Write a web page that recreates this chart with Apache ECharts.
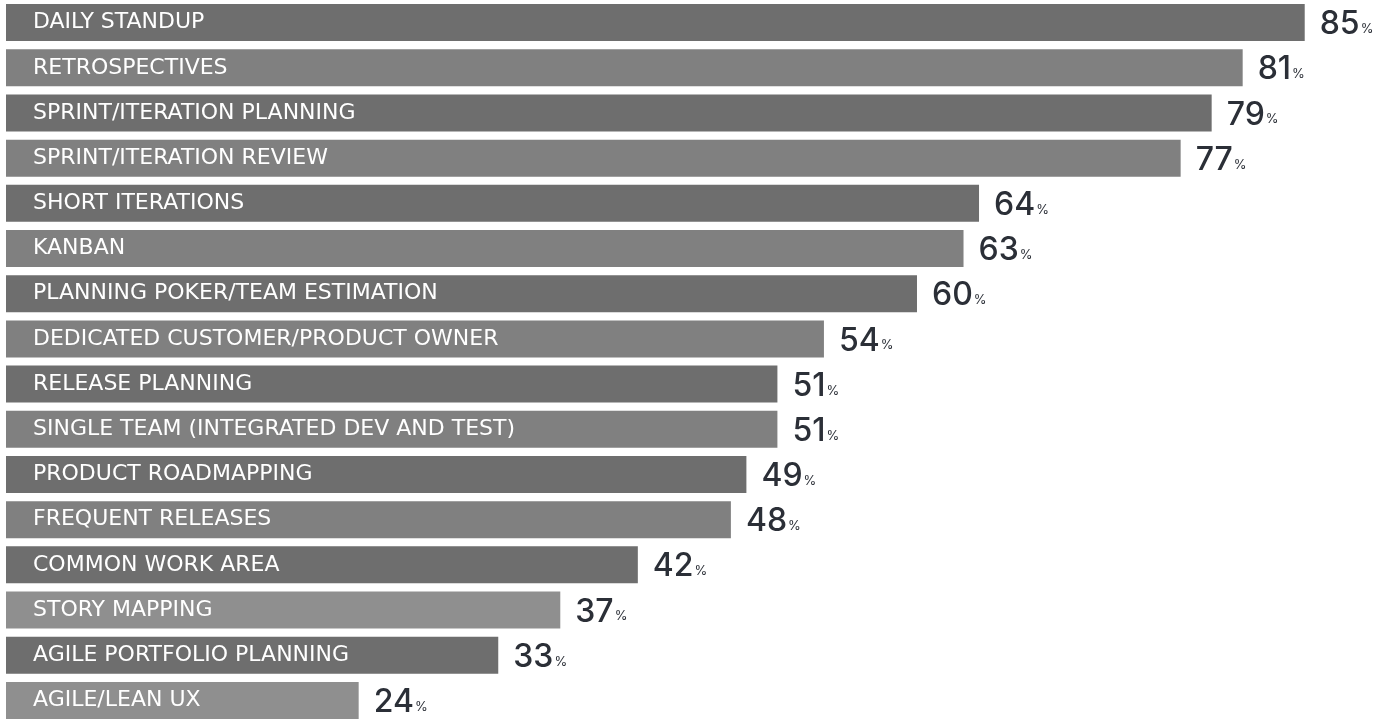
<!DOCTYPE html>
<html>
<head>
<meta charset="utf-8">
<script src="https://cdn.jsdelivr.net/npm/echarts@6/dist/echarts.min.js"></script>
<style>
  html, body { margin: 0; padding: 0; background: #ffffff; }
  #chart { width: 1388px; height: 723px; }
</style>
</head>
<body>
<div id="chart"></div>
<script>
const categories = [
  'DAILY STANDUP',
  'RETROSPECTIVES',
  'SPRINT/ITERATION PLANNING',
  'SPRINT/ITERATION REVIEW',
  'SHORT ITERATIONS',
  'KANBAN',
  'PLANNING POKER/TEAM ESTIMATION',
  'DEDICATED CUSTOMER/PRODUCT OWNER',
  'RELEASE PLANNING',
  'SINGLE TEAM (INTEGRATED DEV AND TEST)',
  'PRODUCT ROADMAPPING',
  'FREQUENT RELEASES',
  'COMMON WORK AREA',
  'STORY MAPPING',
  'AGILE PORTFOLIO PLANNING',
  'AGILE/LEAN UX'
];
const values = [85, 81, 79, 77, 64, 63, 60, 54, 51, 51, 49, 48, 42, 37, 33, 24];
const barColors = [
  '#6e6e6e', '#808080', '#6e6e6e', '#808080', '#6e6e6e', '#808080', '#6e6e6e', '#808080',
  '#6e6e6e', '#808080', '#6e6e6e', '#808080', '#6e6e6e', '#8f8f8f', '#6e6e6e', '#8f8f8f'
];

const chart = echarts.init(document.getElementById('chart'), null, { renderer: 'canvas' });

const barData = values.map((v, i) => ({ value: v, itemStyle: { color: barColors[i] } }));

chart.setOption({
  animation: false,
  backgroundColor: '#ffffff',
  grid: { left: 6, right: 0, top: -1.3, height: 729.6, containLabel: false },
  xAxis: {
    type: 'value', min: 1.26, max: 90.37, show: false
  },
  yAxis: {
    type: 'category', data: categories, inverse: true, show: false
  },
  series: [
    {
      type: 'bar',
      data: barData,
      barWidth: 37,
      label: {
        show: true,
        position: 'insideLeft',
        distance: 27,
        formatter: '{b}',
        color: '#ffffff',
        fontFamily: 'DejaVu Sans',
        fontSize: 22,
        padding: [3, 0, 0, 0]
      }
    },
    {
      type: 'bar',
      data: values,
      barWidth: 37,
      barGap: '-100%',
      itemStyle: { color: 'rgba(0,0,0,0)' },
      label: {
        show: true,
        position: 'right',
        distance: 15,
        formatter: p => '{n|' + p.value + '}{p|%}',
        rich: {
          n: { fontFamily: 'Inter', fontSize: 32, fontWeight: 500, color: '#2b2f37', verticalAlign: 'bottom', lineHeight: 36 },
          p: { fontFamily: 'Inter', fontSize: 13, fontWeight: 400, color: '#2b2f37', verticalAlign: 'bottom', lineHeight: 13, padding: [0, 0, 5, 1] }
        }
      }
    }
  ]
});
</script>
</body>
</html>
